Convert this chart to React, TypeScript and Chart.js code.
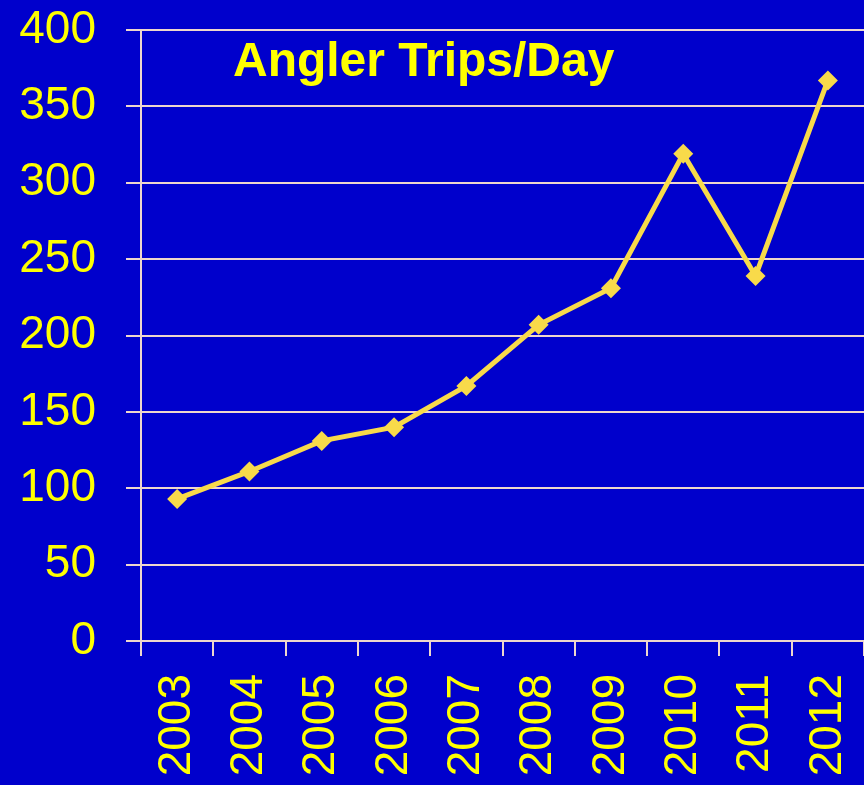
import React, { useEffect, useRef } from "react";
import { Chart, registerables } from "chart.js";

Chart.register(...registerables);

const years = ["2003", "2004", "2005", "2006", "2007", "2008", "2009", "2010", "2011", "2012"];
const tripsPerDay = [93, 111, 131, 140, 167, 207, 231, 319, 239, 367];
const yMin = 0;
const yMax = 400;
const yStep = 50;
const chartTitle = "Angler Trips/Day";

const BG = "#0000CC";
const TEXT = "#FFFF00";
const LINE = "#F8DA4A";
const GRID = "#EED6CC";
const FONT = '"Liberation Sans", Arial, Helvetica, sans-serif';

const bgPlugin = {
  id: "bgFill",
  beforeDraw(chart: any) {
    const { ctx, width, height } = chart;
    ctx.save();
    ctx.fillStyle = BG;
    ctx.fillRect(0, 0, width, height);
    ctx.restore();
  },
};

const innerTitlePlugin = {
  id: "innerTitle",
  afterDraw(chart: any) {
    const { ctx, chartArea } = chart;
    ctx.save();
    ctx.font = `bold 48px ${FONT}`;
    ctx.fillStyle = TEXT;
    ctx.textAlign = "center";
    ctx.textBaseline = "alphabetic";
    ctx.fillText(chartTitle, chartArea.left + chartArea.width * 0.391, chartArea.top + 46);
    ctx.restore();
  },
};

export default function App() {
  const ref = useRef<HTMLCanvasElement | null>(null);

  useEffect(() => {
    document.body.style.margin = "0";
    document.body.style.background = BG;
    const canvas = ref.current;
    if (!canvas) return;
    const chart = new Chart(canvas, {
      type: "line",
      data: {
        labels: years,
        datasets: [
          {
            data: tripsPerDay,
            borderColor: LINE,
            backgroundColor: LINE,
            borderWidth: 5,
            pointStyle: "rectRot",
            pointRadius: 10,
            pointBackgroundColor: LINE,
            pointBorderColor: LINE,
            pointBorderWidth: 0,
            tension: 0,
            clip: false,
          } as any,
        ],
      },
      options: {
        responsive: false,
        animation: false,
        layout: { autoPadding: false, padding: 0 },
        plugins: {
          legend: { display: false },
          tooltip: { enabled: false },
          title: { display: false },
        },
        scales: {
          x: {
            type: "category",
            offset: true,
            grid: {
              offset: true,
              drawOnChartArea: false,
              drawTicks: true,
              tickLength: 15,
              color: GRID,
              lineWidth: 2,
            },
            border: { display: true, color: GRID, width: 2 },
            ticks: {
              color: TEXT,
              font: { family: FONT, size: 46 },
              minRotation: 90,
              maxRotation: 90,
              autoSkip: false,
              padding: 18,
            },
            afterFit(scale: any) {
              scale.height = 144;
              scale.paddingLeft = 0;
              scale.paddingRight = 0;
            },
          },
          y: {
            min: yMin,
            max: yMax,
            grid: {
              color: GRID,
              lineWidth: 2,
              drawTicks: true,
              tickLength: 15,
            },
            border: { display: true, color: GRID, width: 2 },
            ticks: {
              stepSize: yStep,
              color: TEXT,
              font: { family: FONT, size: 46 },
              padding: 30,
            },
            afterFit(scale: any) {
              scale.width = 141;
              scale.paddingTop = 30;
              scale.paddingBottom = 0;
            },
          },
        },
      } as any,
      plugins: [bgPlugin, innerTitlePlugin],
    });
    return () => chart.destroy();
  }, []);

  return (
    <div style={{ width: 864, height: 785, background: BG }}>
      <canvas ref={ref} width={864} height={785} style={{ display: "block" }} />
    </div>
  );
}
